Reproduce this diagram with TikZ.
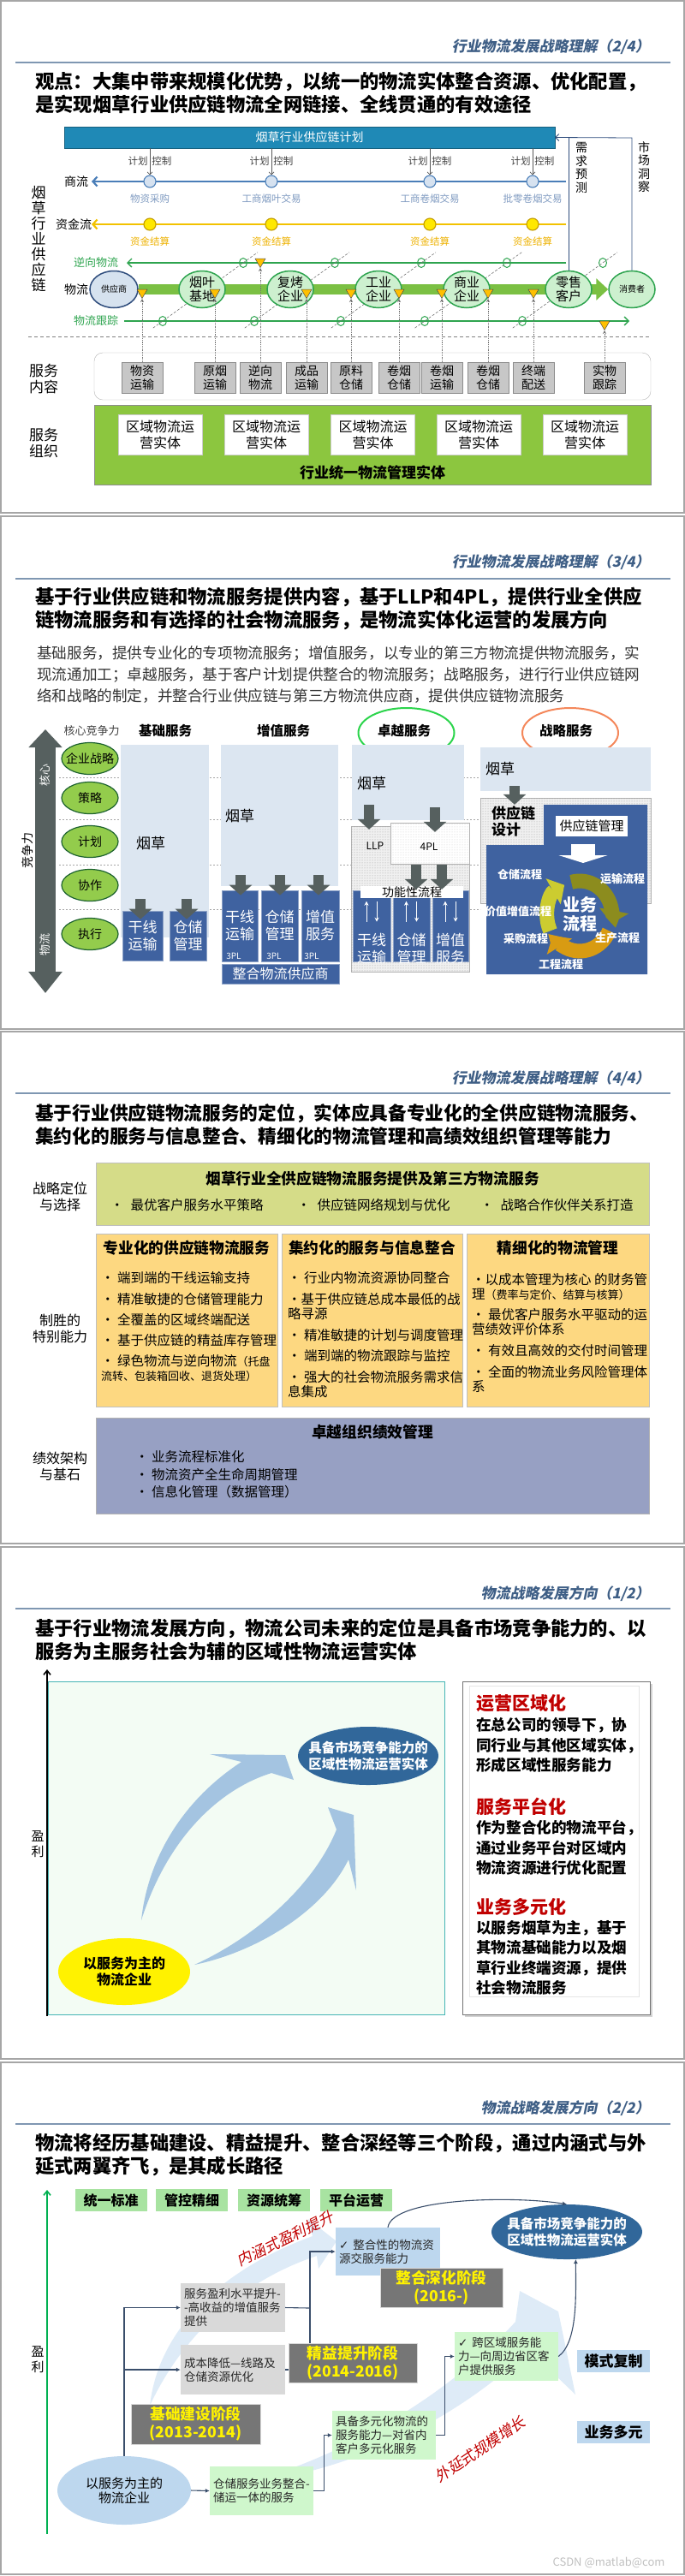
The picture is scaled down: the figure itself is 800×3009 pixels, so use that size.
\documentclass[tikz,border=0pt]{standalone}
\usepackage{fontspec}
\setmainfont{Noto Sans CJK SC}
\newfontfamily\slantfont[FakeSlant=0.2]{Noto Sans CJK SC}
\newfontfamily\symfont{DejaVu Sans}
\usetikzlibrary{arrows.meta,calc,patterns,shapes.geometric,shadows}
\newcommand{\fsz}[2]{\fontsize{#1}{#2}\selectfont}
\newcommand{\zw}[1]{\makebox[0pt]{#1}}
\definecolor{framegray}{HTML}{A6A6A6}
\definecolor{hdrblue}{HTML}{3F5F86}
\definecolor{rulegray}{HTML}{7F97B2}
\definecolor{planblue}{HTML}{1F89B6}
\definecolor{tradeblue}{HTML}{4A7EB8}
\definecolor{tradefill}{HTML}{D6E2F0}
\definecolor{tradelabel}{HTML}{7F9AC0}
\definecolor{fundgold}{HTML}{F2C200}
\definecolor{fundfill}{HTML}{FFE800}
\definecolor{fundlabel}{HTML}{EDB100}
\definecolor{chaingreen}{HTML}{2EA44F}
\definecolor{bandgreen}{HTML}{7BC043}
\definecolor{nodegreen}{HTML}{CDF0CF}
\definecolor{supblue}{HTML}{D6E2EF}
\definecolor{supline}{HTML}{2E4C7C}
\definecolor{markgold}{HTML}{FFC000}
\definecolor{orggreen}{HTML}{8CC63F}
\definecolor{colbg}{HTML}{DCE6F1}
\definecolor{boxblue}{HTML}{3F62A0}
\definecolor{arrgray}{HTML}{56605F}
\definecolor{rowgreen}{HTML}{93CC4C}
\definecolor{exgreen}{HTML}{2BD44B}
\definecolor{exorange}{HTML}{F4875A}
\definecolor{olivec}{HTML}{8C8C1E}
\definecolor{orangec}{HTML}{D89B12}
\definecolor{yellowc}{HTML}{CCCC30}
\definecolor{posgreen}{HTML}{D5DC88}
\definecolor{capyellow}{HTML}{FDD881}
\definecolor{perfblue}{HTML}{97A0C3}
\definecolor{mintbg}{HTML}{F3FCF4}
\definecolor{tealline}{HTML}{46B5B5}
\definecolor{entblue}{HTML}{31679A}
\definecolor{swooshblue}{HTML}{A4C4E1}
\definecolor{paleblue}{HTML}{DEEBF7}
\definecolor{stagegray}{HTML}{767676}
\definecolor{lightgray}{HTML}{D9D9D9}
\definecolor{stepgreen}{HTML}{CFF7CC}
\definecolor{tagblue}{HTML}{BDD7EE}
\definecolor{taggreen}{HTML}{A8E3A1}
\definecolor{connblue}{HTML}{3A4E6B}
\definecolor{darkred}{HTML}{C00000}
\definecolor{axgreen}{HTML}{00B050}

\begin{document}
\begin{tikzpicture}[x=1pt, y=-1pt, >=Latex,
  frame/.style={draw=framegray, line width=1.6pt},
  hdr/.style={anchor=east, inner sep=0pt, text=hdrblue, font=\slantfont\bfseries\fsz{17}{20}},
  hrule/.style={draw=rulegray, line width=1.4pt},
  ttl/.style={anchor=west, align=left, inner sep=0pt, font=\bfseries\fsz{22.3}{27}},
  planbar/.style={fill=planblue, draw=planblue!70!black, minimum width=573, minimum height=25, inner sep=0pt, text=white, font=\fsz{14}{16}},
  vtext/.style={align=center, inner sep=0pt, font=\fsz{14}{15.5}},
  rowlbl/.style={inner sep=0pt, font=\fsz{14}{16}},
  ctltext/.style={inner sep=0pt, text=black!75, font=\fsz{11.5}{13}},
  ctl/.style={draw=black!65, line width=0.7pt, -{Straight Barb[length=3pt,width=6pt]}},
  tradeln/.style={draw=tradeblue, line width=2.2pt, -{Straight Barb[length=5pt,width=11pt]}},
  fundln/.style={draw=fundgold, line width=2.2pt, -{Straight Barb[length=5pt,width=11pt]}},
  greenln/.style={draw=chaingreen, line width=1.3pt, -{Straight Barb[length=5pt,width=10pt]}},
  tradedot/.style={circle, fill=tradefill, draw=tradeblue, line width=1.1pt, minimum size=14, inner sep=0pt},
  funddot/.style={circle, fill=fundfill, draw=fundgold!80!black, line width=1.1pt, minimum size=14, inner sep=0pt},
  ringdot/.style={ellipse, draw=chaingreen, line width=1pt, minimum width=9, minimum height=11, inner sep=0pt},
  diag/.style={draw=black!55, dash pattern=on 3pt off 2pt, line width=0.6pt},
  supnode/.style={ellipse, fill=supblue, draw=supline, line width=1.5pt, minimum width=56, minimum height=43, inner sep=0pt, font=\fsz{10}{12}},
  chainnode/.style={ellipse, fill=nodegreen, draw=chaingreen, line width=1.5pt, minimum width=54, minimum height=43, inner sep=-1pt, align=center, font=\fsz{15}{16}},
  band/.style={draw=bandgreen, line width=12pt, -{Triangle[length=14pt,width=25pt]}},
  mktln/.style={draw=supline, line width=0.8pt},
  trimark/.style={regular polygon, regular polygon sides=3, shape border rotate=180, minimum size=14, inner sep=0pt, fill=markgold, draw=black!70, line width=0.5pt},
  sepdash/.style={draw=black!50, dash pattern=on 4pt off 3pt, line width=0.8pt},
  svcarea/.style={draw=black!30, fill=white, rounded corners=10, minimum width=650, minimum height=55, inner sep=0pt},
  svcbox/.style={fill=black!22, draw=black!45, minimum width=48, minimum height=36, inner sep=0pt, align=center, font=\fsz{14}{15.5}},
  dotln/.style={draw=black!55, densely dotted, line width=0.8pt, -{Stealth[length=4pt,width=4pt]}},
  orgarea/.style={fill=orggreen, draw=black!45, line width=1pt, minimum width=650, minimum height=93, inner sep=0pt},
  regbox/.style={fill=white, draw=black!20, minimum width=98, minimum height=47, inner sep=0pt, align=center, font=\fsz{16}{19}},
  para/.style={anchor=west, align=left, inner sep=0pt, text=black!80, font=\fsz{17.6}{25}},
  rowdash/.style={draw=black!35, dash pattern=on 2pt off 2pt, line width=0.7pt},
  coreaxis/.style={draw=arrgray, line width=24pt, {Triangle[width=38pt,length=21pt]}-{Triangle[width=38pt,length=25pt]}},
  rowell/.style={ellipse, fill=rowgreen, draw=chaingreen!60!black, line width=1.2pt, minimum width=66, minimum height=37, inner sep=0pt, font=\fsz{14}{16}},
  colhdr/.style={inner sep=0pt, font=\bfseries\fsz{15.5}{18}},
  colbgbox/.style={fill=colbg, inner sep=0pt},
  tobacco/.style={inner sep=0pt, font=\fsz{17}{19}},
  svcblue/.style={fill=boxblue, draw=boxblue!60!white, line width=0.6pt, text=white, align=center, inner sep=0pt, font=\fsz{17}{20}},
  boxtext/.style={text=white, align=center, inner sep=0pt, font=\fsz{17}{20}},
  tplbl/.style={text=white, inner sep=0pt, font=\fsz{10}{12}},
  fatarrow/.style={draw=arrgray, line width=12pt, -{Triangle[width=26pt,length=12pt]}},
  whitearrow/.style={draw=white, line width=28pt, -{Triangle[width=57pt,length=9pt]}},
  dotzone/.style={fill=black!6, draw=black!30, inner sep=0pt, postaction={pattern=dots, pattern color=black!40}},
  dotzonelt/.style={fill=white, draw=black!30, inner sep=0pt, postaction={pattern=dots, pattern color=black!22}},
  updn/.style={draw=white, line width=1pt, -{Stealth[length=5pt,width=5pt]}},
  cycarc/.style={line width=17pt, -{Triangle[width=34pt,length=15pt]}},
  plabel/.style={text=white, inner sep=0pt, font=\bfseries\fsz{13}{15}},
  sidelbl/.style={align=center, inner sep=0pt, font=\fsz{16}{19}},
  posbox/.style={fill=posgreen, draw=black!25, minimum width=646, minimum height=73, inner sep=0pt},
  capbox/.style={fill=capyellow, draw=black!25, minimum height=202, inner sep=0pt},
  perfbox/.style={fill=perfblue, draw=black!30, minimum width=646, minimum height=112, inner sep=0pt},
  boxttl/.style={inner sep=0pt, font=\bfseries\fsz{17.7}{20}},
  bul/.style={anchor=west, inner sep=0pt, font=\fsz{15.5}{17.5}},
  bulblk/.style={anchor=west, align=left, inner sep=0pt, font=\fsz{15.5}{17}},
  small/.style={font=\fsz{13}{17}},
  field/.style={fill=mintbg, draw=tealline, line width=1pt, minimum width=463, minimum height=389, inner sep=0pt},
  axisln/.style={draw=black, line width=1.6pt, -{Straight Barb[length=5pt,width=8pt]}},
  entell/.style={ellipse, fill=entblue, text=white, align=center, inner sep=0pt, font=\bfseries\fsz{15.5}{19}},
  baseell/.style={ellipse, fill=yellow, align=center, inner sep=0pt, font=\bfseries\fsz{16}{19}},
  swoosh/.style={fill=swooshblue},
  sidebox/.style={fill=white, draw=black!55, line width=1pt, minimum width=219, minimum height=389, inner sep=0pt, drop shadow={opacity=0.35, shadow xshift=2.5pt, shadow yshift=-2.5pt}},
  redhd/.style={anchor=west, inner sep=0pt, text=darkred, font=\bfseries\fsz{21}{24}},
  sidetxt/.style={anchor=west, align=left, inner sep=0pt, font=\bfseries\fsz{17.6}{23.5}},
  tag/.style={fill=taggreen, minimum width=84, minimum height=26, inner sep=0pt, font=\bfseries\fsz{16}{18}},
  stepbox/.style={align=left, inner sep=0pt, text=black!85, font=\fsz{13.5}{16}},
  stagebox/.style={fill=stagegray, draw=black!15, text=yellow, align=center, inner sep=0pt, font=\bfseries\fsz{17.7}{21}},
  conn/.style={draw=connblue, line width=1.1pt, -{Latex[length=5pt,width=5pt]}},
  redslant/.style={text=darkred, inner sep=0pt, font=\slantfont\fsz{17.5}{20}}
]
\useasboundingbox (0,0) rectangle (800,3009);

% slide 1: supply chain and service organisation
\draw[frame] (1,1) rectangle (799,599);
\node[hdr] (hdr1) at (759,55) {行业物流发展战略理解（2/4）};
\draw[hrule] (18,73) -- (783,73);
\node[ttl] (ttl1) at (41,108.5) {观点：大集中带来规模化优势，以统一的物流实体整合资源、优化配置，\\是实现烟草行业供应链物流全网链接、全线贯通的有效途径};

\node[planbar] (plan) at (361.5,160.5) {烟草行业供应链计划};
\node[vtext, font=\fsz{17}{18}] (chain) at (45,279) {烟\\草\\行\\业\\供\\应\\链};
\node[vtext] (need) at (679,196) {需\\求\\预\\测};
\node[vtext] (insight) at (752,195) {市\\场\\洞\\察};

\coordinate (trade-e) at (661,212);
\coordinate (trade-w) at (107,212);
\coordinate (fund-e) at (661,262);
\coordinate (fund-w) at (107,262);
\coordinate (rev-e) at (661,307);
\coordinate (rev-w) at (148,307);
\coordinate (track-w) at (145,375);
\coordinate (track-e) at (735,375);
\draw[tradeln] (trade-e) -- (trade-w);
\draw[fundln] (fund-e) -- (fund-w);
\draw[greenln] (rev-e) -- (rev-w);
\draw[greenln] (track-w) -- (track-e);
\node[rowlbl] (lbl-trade) at (89,212) {商流};
\node[rowlbl] (lbl-fund) at (86,262) {资金流};
\node[rowlbl, text=chaingreen, font=\fsz{13}{15}] (lbl-rev) at (112,307) {逆向物流};
\node[rowlbl] (lbl-log) at (89,338) {物流};
\node[rowlbl, text=chaingreen, font=\fsz{13}{15}] (lbl-track) at (112,375) {物流跟踪};

\foreach \i/\x/\txt in {1/175/物资采购, 2/317/工商烟叶交易, 3/502/工商卷烟交易, 4/622/批零卷烟交易} {
  \node[tradedot] (td\i) at (\x,212) {};
  \node[funddot] (fd\i) at (\x,262) {};
  \node[ctltext] (ctl\i) at (\x,188) {计划\hspace{5pt}控制};
  \node[ctltext, text=tradelabel] (tl\i) at (\x,232) {\txt};
  \node[ctltext, text=fundlabel] (fl\i) at (\x,282) {资金结算};
  \draw[ctl] (plan.south -| td\i) -- (td\i);
}

\foreach \i/\a/\b in {1/190/284, 2/297/391, 3/398/492, 4/496/592, 5/610/704} {
  \node[ringdot] (k\i) at (\a,375) {};
  \node[ringdot] (r\i) at (\b,307) {};
  \draw[diag] ($(k\i)!-0.12!(r\i)$) -- ($(r\i)!-0.18!(k\i)$);
}

\node[supnode] (sup) at (133,338) {供应商};
\node[chainnode, font=\fsz{10}{12}] (cons) at (738,338) {消费者};
\draw[band] (sup) -- (cons);
\node[chainnode] (farm) at (236,338) {烟叶\\基地};
\node[chainnode] (redry) at (339,338) {复烤\\企业};
\node[chainnode] (plant) at (442,338) {工业\\企业};
\node[chainnode] (trader) at (545,338) {商业\\企业};
\node[chainnode] (retail) at (664,338) {零售\\客户};
\coordinate (mkt) at (737,161);
\draw[mktln] (retail.north) -- (retail.north |- mkt);
\draw[mktln, -{Straight Barb[length=4pt,width=8pt]}] (cons.north) -- (cons.north |- mkt) -- (plan.east);

\foreach \i/\x in {1/166,2/251,4/358,5/410,6/466,7/516,8/570,9/623}
  \node[trimark] (m\i) at (\x,341.5) {};
\node[trimark] (m3) at (304,305.5) {};
\node[trimark] (m10) at (706,378.5) {};

\coordinate (sep-w) at (33,393);
\coordinate (sep-e) at (758,393);
\draw[sepdash] (sep-w) -- (sep-e);

\node[svcarea] (svc) at (435,439.5) {};
\node[vtext, font=\fsz{17}{19}] (svc-lbl) at (51,443) {服务\\内容};
\node[svcbox] (s1) at (166,441) {物资\\运输};
\node[svcbox] (s2) at (251,441) {原烟\\运输};
\node[svcbox] (s3) at (304,441) {逆向\\物流};
\node[svcbox] (s4) at (358,441) {成品\\运输};
\node[svcbox] (s5) at (410,441) {原料\\仓储};
\node[svcbox] (s6) at (466,441) {卷烟\\仓储};
\node[svcbox] (s7) at (516,441) {卷烟\\运输};
\node[svcbox] (s8) at (570,441) {卷烟\\仓储};
\node[svcbox] (s9) at (623,441) {终端\\配送};
\node[svcbox] (s10) at (706,441) {实物\\跟踪};
\foreach \i in {1,...,10} \draw[dotln] (s\i) -- (m\i);

\node[orgarea] (org) at (435,519.5) {};
\node[vtext, font=\fsz{17}{19}] (org-lbl) at (51,518) {服务\\组织};
\foreach \i/\x in {1/187,2/311,3/435.5,4/559,5/683}
  \node[regbox] (reg\i) at (\x,507.5) {区域物流运\\营实体};
\node[inner sep=0pt, font=\bfseries\fsz{17}{20}] (org-name) at (435,552) {行业统一物流管理实体};

% slide 2: service levels
\draw[frame] (1,603) rectangle (799,1202);
\node[hdr] (hdr2) at (759,657) {行业物流发展战略理解（3/4）};
\draw[hrule] (18,676) -- (783,676);
\node[ttl] (ttl2) at (41,711) {基于行业供应链和物流服务提供内容，基于LLP和4PL，提供行业全供应\\链物流服务和有选择的社会物流服务，是物流实体化运营的发展方向};
\node[para] (para2) at (43,788) {基础服务，提供专业化的专项物流服务；增值服务，以专业的第三方物流提供物流服务，实\\现流通加工；卓越服务，基于客户计划提供整合的物流服务；战略服务，进行行业供应链网\\络和战略的制定，并整合行业供应链与第三方物流供应商，提供供应链物流服务};

\foreach \y in {908,957,1010,1062} \draw[rowdash] (69,\y) -- (561,\y);
\coordinate (core-top) at (53,852);
\coordinate (core-bot) at (53,1160);
\draw[coreaxis] (core-top) -- (core-bot);
\node[rotate=90, text=white, inner sep=0pt, font=\fsz{13}{15}] (core-lbl) at (53,905) {核心};
\node[rotate=90, text=white, inner sep=0pt, font=\fsz{13}{15}] (log-lbl) at (53,1103) {物流};
\node[rotate=90, inner sep=0pt, font=\fsz{14}{16}] (comp-lbl) at (32,993) {竞争力};
\node[inner sep=0pt, text=black!75, font=\fsz{13}{15}] (core-comp) at (107,854) {核心竞争力};
\foreach \k/\y/\txt in {1/886/企业战略, 2/932/策略, 3/983/计划, 4/1034/协作, 5/1091/执行}
  \node[rowell] (row\k) at (105,\y) {\zw{\txt}};

\node[colhdr] (hd1) at (193,854) {基础服务};
\node[colhdr] (hd2) at (331,854) {增值服务};
\node[colhdr] (hd3) at (472,854) {卓越服务};
\node[colhdr] (hd4) at (661,854) {战略服务};
\node[ellipse, draw=exgreen, line width=2pt, minimum width=112, minimum height=58] (ring3) at (474.5,856) {};
\node[ellipse, draw=exorange, line width=2pt, minimum width=112, minimum height=58] (ring4) at (666,856) {};

\node[colbgbox, minimum width=103, minimum height=225] (c1bg) at (192.5,982.5) {};
\node[tobacco] (c1tob) at (176,985) {烟草};
\node[svcblue, minimum width=47, minimum height=58] (c1b1) at (166.5,1093) {干线\\运输};
\node[svcblue, minimum width=43, minimum height=58] (c1b2) at (219.5,1093) {仓储\\管理};
\coordinate (c1a1) at (164,1050);
\coordinate (c1a2) at (218,1050);
\draw[fatarrow, shorten >=-10pt] (c1a1) -- (c1a1 |- c1b1.north);
\draw[fatarrow, shorten >=-10pt] (c1a2) -- (c1a2 |- c1b2.north);

\node[colbgbox, minimum width=137, minimum height=165] (c2bg) at (326.5,952.5) {};
\node[tobacco] (c2tob) at (280,953) {烟草};
\node[svcblue, minimum width=42, minimum height=83] (c2b1) at (280,1081.5) {干线\\运输};
\node[svcblue, minimum width=43, minimum height=83] (c2b2) at (326.5,1081.5) {仓储\\管理};
\node[svcblue, minimum width=44, minimum height=83] (c2b3) at (374,1081.5) {增值\\服务};
\node[tplbl] (c2p1) at (273,1117) {3PL};
\node[tplbl] (c2p2) at (320,1117) {3PL};
\node[tplbl] (c2p3) at (364,1117) {3PL};
\node[svcblue, minimum width=137, minimum height=23, font=\fsz{16}{18}] (c2int) at (327.5,1137.5) {整合物流供应商};
\foreach \i/\x in {1/281,2/327,3/372} {
  \coordinate (c2a\i) at (\x,1022);
  \draw[fatarrow, shorten >=-6pt] (c2a\i) -- (c2a\i |- c2b1.north);
}

\node[colbgbox, minimum width=131, minimum height=88] (c3bg) at (476.5,914) {};
\node[tobacco] (c3tob) at (434,915) {烟草};
\node[dotzone, minimum width=138, minimum height=170] (c3dot) at (479,1050) {};
\node[dotzonelt, minimum width=92, minimum height=48] (pl4) at (502,985) {};
\node[inner sep=0pt, font=\fsz{12}{14}] (llp) at (438,988) {LLP};
\node[inner sep=0pt, font=\fsz{12}{14}] (pl4t) at (501,989) {4PL};
\coordinate (c3a1) at (431,940);
\coordinate (c3a2) at (508,943);
\draw[fatarrow, shorten >=-4pt] (c3a1) -- (c3a1 |- c3dot.north);
\draw[fatarrow, shorten >=-11pt] (c3a2) -- (c3a2 |- pl4.north);
\node[svcblue, minimum width=44, minimum height=83] (c3b1) at (434,1081.5) {};
\node[svcblue, minimum width=43, minimum height=83] (c3b2) at (480.5,1081.5) {};
\node[svcblue, minimum width=42, minimum height=83] (c3b3) at (526,1081.5) {};
\node[fill=white, minimum width=120, minimum height=14, inner sep=0pt, font=\fsz{14}{15}] (func) at (481,1042) {功能性流程};
\coordinate (c3a3) at (486,1010);
\coordinate (c3a4) at (516,1010);
\draw[fatarrow, shorten >=-4pt] (c3a3) -- (c3a3 |- func.north);
\draw[fatarrow, shorten >=-4pt] (c3a4) -- (c3a4 |- func.north);
\foreach \b in {c3b1,c3b2,c3b3} {
  \draw[updn] ($(\b.north)+(-6,37)$) -- ($(\b.north)+(-6,13)$);
  \draw[updn] ($(\b.north)+(6,13)$) -- ($(\b.north)+(6,37)$);
}
\node[boxtext] (c3t1) at (434,1108) {干线\\运输};
\node[boxtext] (c3t2) at (480.5,1108) {仓储\\管理};
\node[boxtext] (c3t3) at (526,1108) {增值\\服务};

\node[colbgbox, minimum width=199, minimum height=51] (c4bg) at (660.5,898.5) {};
\node[tobacco] (c4tob) at (584,898) {烟草};
\node[dotzone, minimum width=199, minimum height=123] (c4dot) at (660.5,993.5) {};
\coordinate (c4a) at (601,918);
\draw[fatarrow, shorten >=-8pt] (c4a) -- (c4a |- c4dot.north);
\fill[boxblue] (635,940) -- (756,940) -- (756,1138) -- (568,1138) -- (568,987) -- (635,987) -- cycle;
\node[anchor=west, align=left, inner sep=0pt, font=\bfseries\fsz{17}{19}] (scd) at (574,959) {供应链\\设计};
\node[fill=white, minimum width=84, minimum height=24, inner sep=0pt, font=\fsz{15}{17}] (scm) at (691,965) {供应链管理};
\coordinate (c4w1) at (681,986);
\coordinate (c4w2) at (681,1008);
\draw[whitearrow] (c4w1) -- (c4w2);
\coordinate (cyc) at (677,1070);
\draw[cycarc, draw=olivec] (cyc) ++(-105:38 and 41) arc[start angle=-105, end angle=12, x radius=38, y radius=41];
\draw[cycarc, draw=orangec] (cyc) ++(25:38 and 41) arc[start angle=25, end angle=146, x radius=38, y radius=41];
\draw[cycarc, draw=yellowc] (cyc) ++(-205:38 and 41) arc[start angle=-205, end angle=-118, x radius=38, y radius=41];
\node[text=white, align=center, inner sep=0pt, font=\bfseries\fsz{20}{22}] (bizflow) at (677,1068) {业务\\流程};
\node[plabel] (p-store) at (607,1021) {仓储流程};
\node[plabel] (p-trans) at (727,1027) {运输流程};
\node[plabel] (p-value) at (605,1065) {价值增值流程};
\node[plabel] (p-buy) at (614,1097) {采购流程};
\node[plabel] (p-make) at (721,1096) {生产流程};
\node[plabel] (p-eng) at (655,1127) {工程流程};

% slide 3: capabilities
\draw[frame] (1,1205) rectangle (799,1803);
\node[hdr] (hdr3) at (759,1260) {行业物流发展战略理解（4/4）};
\draw[hrule] (18,1277) -- (783,1277);
\node[ttl, font=\bfseries\fsz{21.7}{27}] (ttl3) at (41,1313.5) {基于行业供应链物流服务的定位，实体应具备专业化的全供应链物流服务、\\集约化的服务与信息整合、精细化的物流管理和高绩效组织管理等能力};
\node[sidelbl] (pos-lbl) at (70,1398) {战略定位\\与选择};
\node[sidelbl] (cap-lbl) at (70,1552) {制胜的\\特别能力};
\node[sidelbl] (perf-lbl) at (70,1713) {绩效架构\\与基石};

\node[posbox] (pos) at (435,1394.5) {};
\node[boxttl] (pos-t) at (435,1377) {烟草行业全供应链物流服务提供及第三方物流服务};
\node[bul] (pos-b1) at (129,1408) {•\hspace{8pt}最优客户服务水平策略};
\node[bul] (pos-b2) at (347,1408) {•\hspace{8pt}供应链网络规划与优化};
\node[bul] (pos-b3) at (561,1408) {•\hspace{8pt}战略合作伙伴关系打造};

\node[capbox, minimum width=212] (cap1) at (218,1542) {};
\node[capbox, minimum width=211] (cap2) at (434.5,1542) {};
\node[capbox, minimum width=213] (cap3) at (651.5,1542) {};
\node[boxttl] (cap1-t) at (218,1458) {专业化的供应链物流服务};
\node[boxttl] (cap2-t) at (434.5,1458) {集约化的服务与信息整合};
\node[boxttl] (cap3-t) at (651.5,1458) {精细化的物流管理};

\node[bulblk] (cap1-a) at (118,1493) {• 端到端的干线运输支持};
\node[bulblk] (cap1-b) at (118,1518) {• 精准敏捷的仓储管理能力};
\node[bulblk] (cap1-c) at (118,1542) {• 全覆盖的区域终端配送};
\node[bulblk] (cap1-d) at (118,1566) {• 基于供应链的精益库存管理};
\node[bulblk] (cap1-e) at (118,1598.5) {• 绿色物流与逆向物流{\fsz{13}{17}（托盘}\\{\fsz{13}{17}流转、包装箱回收、退货处理）}};

\node[bulblk] (cap2-a) at (336,1493) {• 行业内物流资源协同整合};
\node[bulblk] (cap2-b) at (336,1526.5) {•基于供应链总成本最低的战\\略寻源};
\node[bulblk] (cap2-c) at (336,1560) {• 精准敏捷的计划与调度管理};
\node[bulblk] (cap2-d) at (336,1584) {• 端到端的物流跟踪与监控};
\node[bulblk] (cap2-e) at (336,1617.5) {• 强大的社会物流服务需求信\\息集成};

\node[bulblk] (cap3-a) at (551,1503.5) {•以成本管理为核心 的财务管\\理{\fsz{13}{17}（费率与定价、结算与核算）}};
\node[bulblk] (cap3-b) at (551,1544.5) {• 最优客户服务水平驱动的运\\营绩效评价体系};
\node[bulblk] (cap3-c) at (551,1578) {• 有效且高效的交付时间管理};
\node[bulblk] (cap3-d) at (551,1611) {• 全面的物流业务风险管理体\\系};

\node[perfbox] (perf) at (435,1712) {};
\node[boxttl] (perf-t) at (435,1673) {卓越组织绩效管理};
\node[bulblk] (perf-a) at (158,1702) {• 业务流程标准化};
\node[bulblk] (perf-b) at (158,1722.5) {• 物流资产全生命周期管理};
\node[bulblk] (perf-c) at (158,1743) {• 信息化管理（数据管理）};

% slide 4: positioning
\draw[frame] (1,1807) rectangle (799,2405);
\node[hdr] (hdr4) at (759,1862) {物流战略发展方向（1/2）};
\draw[hrule] (18,1879) -- (783,1879);
\node[ttl] (ttl4) at (41,1915) {基于行业物流发展方向，物流公司未来的定位是具备市场竞争能力的、以\\服务为主服务社会为辅的区域性物流运营实体};
\node[field] (field4) at (287.5,2158.5) {};
\coordinate (ax4-bot) at (55,2355);
\coordinate (ax4-top) at (55,1950);
\draw[axisln] (ax4-bot) -- (ax4-top);
\node[vtext, font=\fsz{15}{18}] (profit4) at (44,2154) {盈\\利};
\fill[swoosh] (165,2243) .. controls (172,2175) and (210,2105) .. (282,2058) -- (245,2049) -- (333,2050) -- (343,2079) -- (317,2071) .. controls (262,2088) and (198,2140) .. (165,2243) -- cycle;
\fill[swoosh] (227,2295) .. controls (300,2280) and (378,2232) .. (407,2172) -- (416,2208) -- (413,2120) -- (383,2111) -- (393,2137) .. controls (368,2200) and (300,2262) .. (227,2295) -- cycle;
\node[entell, minimum width=164, minimum height=68] (ent4) at (430,2051) {\zw{具备市场竞争能力的}\\\zw{区域性物流运营实体}};
\node[baseell, minimum width=154, minimum height=78] (base4) at (145,2303) {\zw{以服务为主的}\\\zw{物流企业}};

\node[sidebox] (side4) at (649.5,2158.5) {};
\node[draw=black!10, minimum width=198, minimum height=363, inner sep=0pt] (side4in) at (647,2150.5) {};
\node[redhd] (rh1) at (556,1990) {运营区域化};
\node[sidetxt] (st1) at (556,2038.5) {在总公司的领导下，协\\同行业与其他区域实体，\\形成区域性服务能力};
\node[redhd] (rh2) at (556,2110) {服务平台化};
\node[sidetxt] (st2) at (556,2158.5) {作为整合化的物流平台，\\通过业务平台对区域内\\物流资源进行优化配置};
\node[redhd] (rh3) at (556,2227) {业务多元化};
\node[sidetxt] (st3) at (556,2287) {以服务烟草为主，基于\\其物流基础能力以及烟\\草行业终端资源，提供\\社会物流服务};

% slide 5: growth path
\draw[frame] (1,2409) rectangle (799,3007);
\node[hdr] (hdr5) at (759,2463) {物流战略发展方向（2/2）};
\draw[hrule] (18,2481) -- (783,2481);
\node[ttl] (ttl5) at (41,2516.5) {物流将经历基础建设、精益提升、整合深经等三个阶段，通过内涵式与外\\延式两翼齐飞，是其成长路径};
\coordinate (ax5-bot) at (55,2960);
\coordinate (ax5-top) at (55,2558);
\draw[axisln, draw=axgreen] (ax5-bot) -- (ax5-top);
\node[vtext, font=\fsz{15}{18}] (profit5) at (44,2756) {盈\\利};
\fill[paleblue] (175,2810) .. controls (185,2720) and (260,2650) .. (365,2612) -- (360,2592) -- (393,2618) -- (372,2650) -- (370,2635) .. controls (280,2665) and (212,2730) .. (175,2810) -- cycle;
\fill[paleblue] (290,2900) .. controls (420,2885) and (540,2820) .. (618,2745) -- (672,2797) -- (652,2700) -- (607,2676) -- (602,2712) .. controls (530,2790) and (420,2862) .. (290,2900) -- cycle;

\node[tag] (tag1) at (129.5,2570) {统一标准};
\node[tag] (tag2) at (224,2570) {管控精细};
\node[tag] (tag3) at (320,2570) {资源统筹};
\node[tag] (tag4) at (416,2570) {平台运营};

\node[entell, minimum width=176, minimum height=64] (tgt5) at (662,2607) {\zw{具备市场竞争能力的}\\\zw{区域性物流运营实体}};
\node[stepbox, fill=tagblue, minimum width=122, minimum height=56, text width=114] (integ) at (453,2630) {{\symfont ✓}\hspace{5pt}整合性的物流资\\源交服务能力};
\node[stagebox, minimum width=143, minimum height=46] (stage3) at (515.5,2672) {整合深化阶段\\(2016-)};
\node[stepbox, fill=lightgray, minimum width=122, minimum height=57, text width=114] (serv) at (272,2695.5) {服务盈利水平提升-\\-高收益的增值服务\\提供};
\node[stepbox, fill=lightgray, minimum width=122, minimum height=58, text width=114] (cost) at (272,2768) {成本降低—线路及\\仓储资源优化};
\node[stagebox, minimum width=150, minimum height=46] (stage2) at (412,2760) {精益提升阶段\\(2014-2016)};
\node[stagebox, minimum width=151, minimum height=47] (stage1) at (228.5,2831.5) {基础建设阶段\\(2013-2014)};
\node[ellipse, fill=tagblue, minimum width=156, minimum height=80, inner sep=0pt, align=center, font=\fsz{15}{17}] (base5) at (145,2909) {\zw{以服务为主的}\\\zw{物流企业}};
\node[stepbox, fill=stepgreen, minimum width=121, minimum height=57, text width=113] (whs) at (305.5,2909.5) {仓储服务业务整合-\\储运一体的服务};
\node[stepbox, fill=stepgreen, minimum width=121, minimum height=57, text width=113] (div) at (448.5,2844.5) {具备多元化物流的\\服务能力—对省内\\客户多元化服务};
\node[stepbox, fill=stepgreen, minimum width=121, minimum height=57, text width=113] (cross) at (591.5,2752.5) {{\symfont ✓}\hspace{5pt}跨区域服务能\\力—向周边省区客\\户提供服务};
\node[tag, fill=tagblue, minimum width=85, font=\bfseries\fsz{17}{19}] (copy) at (716.5,2758) {模式复制};
\node[tag, fill=tagblue, minimum width=85, font=\bfseries\fsz{17}{19}] (multi) at (716.5,2841) {业务多元};

\draw[conn] (base5.north) |- (serv.west);
\draw[conn] (base5.north) |- (cost.west);
\coordinate (jn) at (362,2696);
\draw[draw=connblue, line width=1.1pt] (serv.east) -- (jn);
\draw[conn] (stage2.north -| jn) |- (integ.west);
\draw[draw=connblue, line width=1.1pt] (cost.east) -- (cost.east -| stage2.west);
\draw[conn] (base5.east) -- (whs.west);
\draw[conn] (whs.east) -- ([xshift=12pt]whs.east) |- (div.west);
\draw[conn] (div.east) -- ([xshift=10pt]div.east) |- (cross.west);
\draw[conn] (cross.east) .. controls +(23,-17) and +(0,40) .. (tgt5.-72);
\draw[conn] (integ.north) .. controls +(5,-35) and +(-60,-10) .. (tgt5.north);

\node[redslant, rotate=26] (inner-lbl) at (333,2615) {内涵式盈利提升};
\node[redslant, rotate=34] (outer-lbl) at (561,2861) {外延式规模增长};
\node[inner sep=0pt, text=black!25, font=\fsz{13}{15}] (mark5) at (711,2993) {CSDN @matlab@com};
\end{tikzpicture}
\end{document}
